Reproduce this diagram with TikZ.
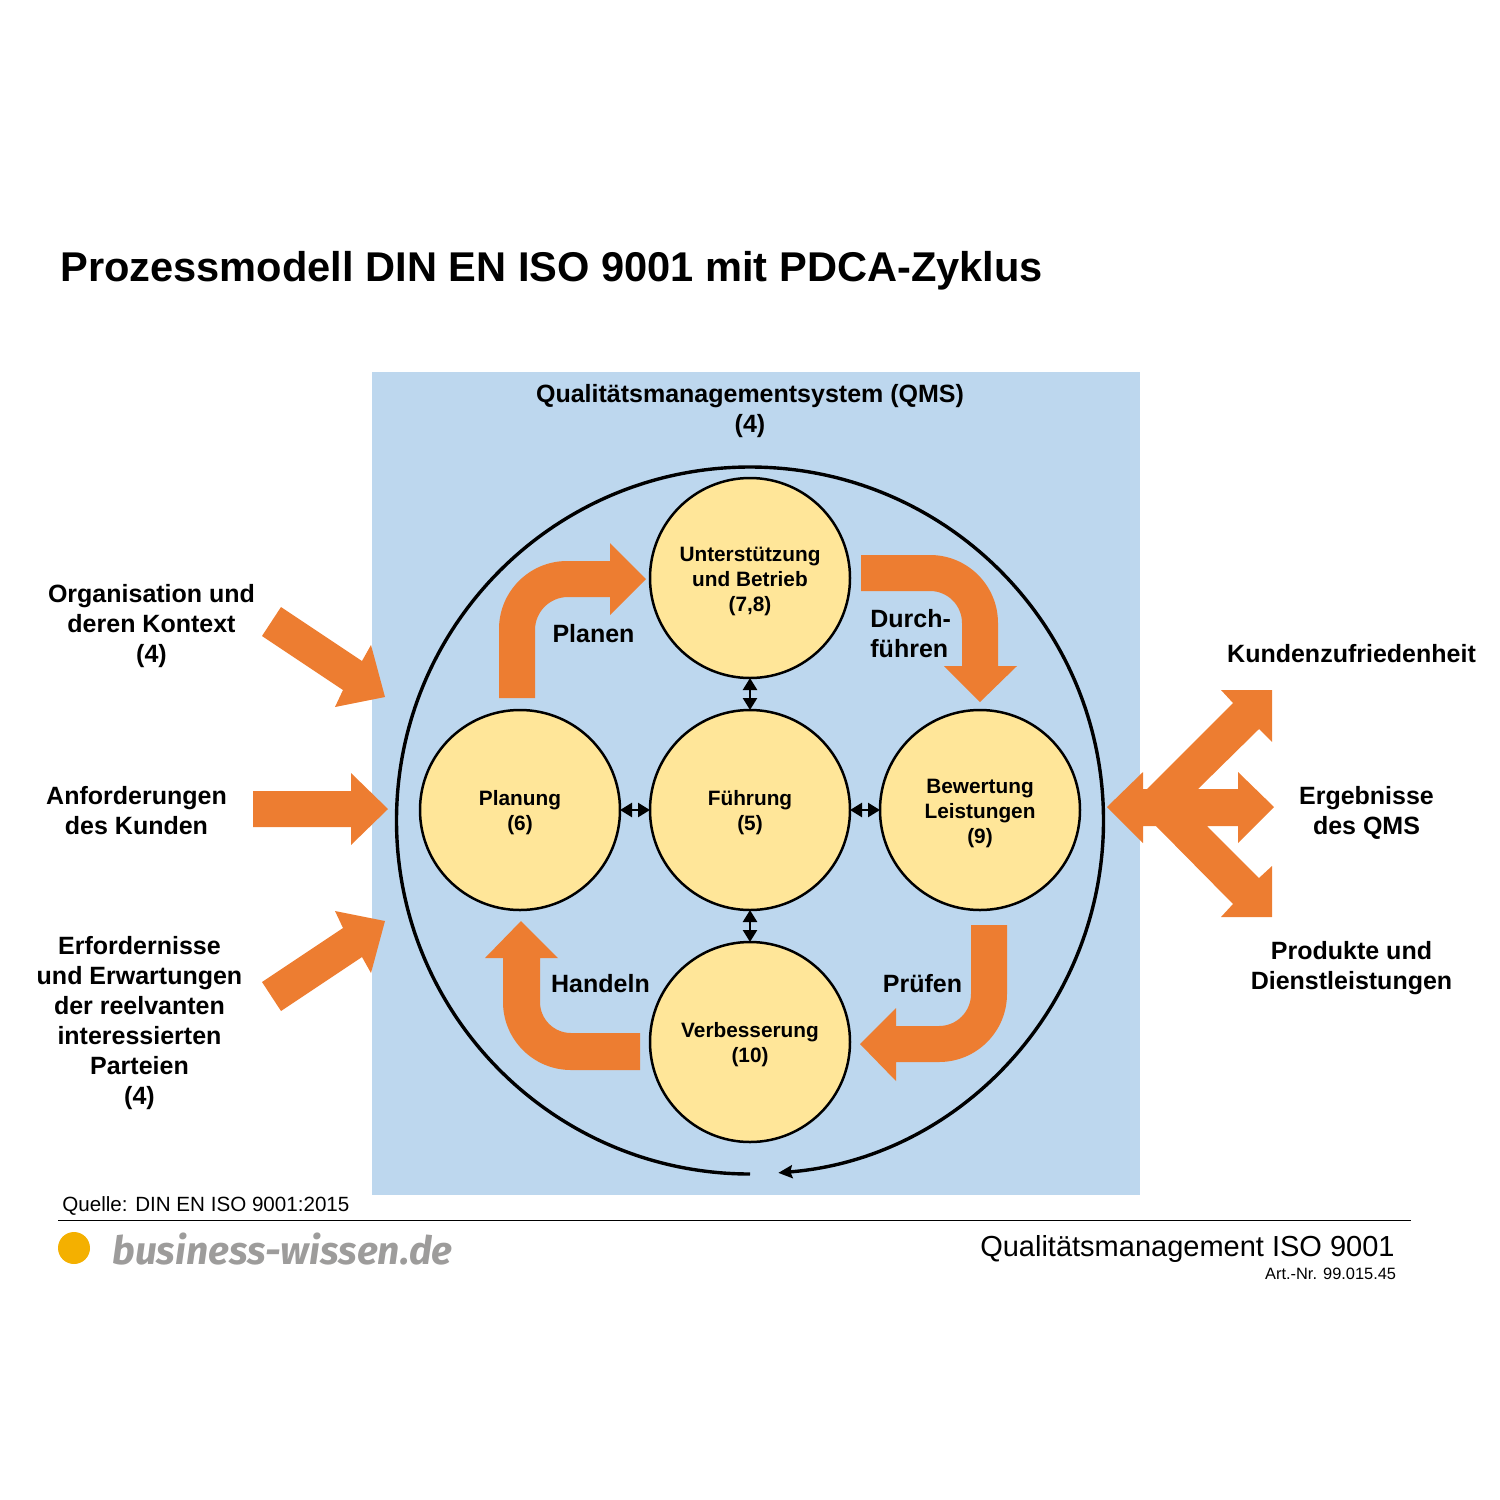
\documentclass[tikz,border=0pt]{standalone}
\usepackage{fontspec}
\setmainfont{Liberation Sans}
\newfontfamily\logofont{Fira Sans}
\usetikzlibrary{arrows.meta}
\definecolor{qmsblue}{HTML}{BDD7EE}
\definecolor{blockorange}{HTML}{ED7D31}
\definecolor{circleyellow}{HTML}{FFE699}
\definecolor{logodot}{HTML}{F4B000}
\definecolor{logogray}{HTML}{9D9C9B}
\tikzset{
  blockarrow/.style={fill=blockorange,draw=none},
  procircle/.style={circle,draw=black,line width=1.25pt,fill=circleyellow,minimum size=100pt,inner sep=0pt,outer sep=0pt,align=center,font=\fontsize{10.4}{12.5}\selectfont\bfseries},
  circletext/.style={yshift=-1.5pt,inner sep=0pt,align=center,font=\fontsize{10.4}{12.5}\selectfont\bfseries},
  biglabel/.style={align=center,inner sep=0pt,font=\fontsize{12.5}{15}\selectfont\bfseries},
  linkarrow/.style={{Triangle[length=6pt,width=7pt]}-{Triangle[length=6pt,width=7pt]},line width=1.2pt,black},
  cyclearrow/.style={-{Stealth[length=7pt,width=6.5pt,inset=1pt]},line width=1.7pt,black}
}
\begin{document}
\begin{tikzpicture}[x=.5pt,y=.5pt,yscale=-1]
\path[use as bounding box] (0,0) rectangle (1500,1500);
\fill[qmsblue] (372,372) rectangle (1140,1195);
\node[anchor=west,inner sep=0pt,font=\fontsize{20.8}{25}\selectfont\bfseries] (title) at (60,271) {Prozessmodell DIN EN ISO 9001 mit PDCA-Zyklus};
\node[biglabel] (qms) at (750,411) {Qualitätsmanagementsystem (QMS)\\(4)};
% big cycle
\draw[cyclearrow] (750,1174) arc[start angle=90,end angle=445.4,radius=353.5];
% circles
\node[procircle] (u) at (750,578) {};
\node[procircle] (p) at (520,810) {};
\node[procircle] (f) at (750,810) {};
\node[procircle] (b) at (980,810) {};
\node[procircle] (v) at (750,1042) {};
\node[circletext] (ut) at (u) {Unterstützung\\und Betrieb\\(7,8)};
\node[circletext] (pt) at (p) {Planung\\(6)};
\node[circletext] (ft) at (f) {Führung\\(5)};
\node[circletext] (bt) at (b) {Bewertung\\Leistungen\\(9)};
\node[circletext] (vt) at (v) {Verbesserung\\(10)};
\draw[linkarrow] (u.south) -- (f.north);
\draw[linkarrow] (f.south) -- (v.north);
\draw[linkarrow] (p.east) -- (f.west);
\draw[linkarrow] (f.east) -- (b.west);
% PDCA arrows
\fill[blockarrow] (499,698) -- (499,629) arc[start angle=180,end angle=270,radius=68] -- (610,561) -- (610,543) -- (646,579) -- (610,615) -- (610,597) -- (568,597) arc[start angle=270,end angle=180,radius=33] -- (535,698) -- cycle;
\fill[blockarrow] (861,555) -- (930,555) arc[start angle=270,end angle=360,radius=68] -- (998,666) -- (1017,666) -- (980,702) -- (944,666) -- (962,666) -- (962,623) arc[start angle=360,end angle=270,radius=32] -- (861,591) -- cycle;
\fill[blockarrow] (971,925) -- (1007,925) -- (1007,994) arc[start angle=0,end angle=90,radius=68] -- (896,1062) -- (896,1081) -- (860,1044) -- (896,1008) -- (896,1026) -- (939,1026) arc[start angle=90,end angle=0,radius=32] -- cycle;
\fill[blockarrow] (640,1033) -- (640,1070) -- (571,1070) arc[start angle=90,end angle=180,radius=68] -- (503,958) -- (485,958) -- (521,921) -- (558,958) -- (540,958) -- (540,1002) arc[start angle=180,end angle=90,radius=31] -- cycle;
\node[biglabel] (planen) at (593.5,634) {Planen};
\node[biglabel,align=left,anchor=west] (durch) at (870,634) {Durch-\\führen};
\node[biglabel] (pruefen) at (922.5,984) {Prüfen};
\node[biglabel] (handeln) at (600.5,984) {Handeln};
% left inputs
\fill[blockarrow] (281,607) -- (362,661) -- (371,645) -- (385,697) -- (335,707) -- (343,690) -- (262,636) -- cycle;
\fill[blockarrow] (253,791) -- (351,791) -- (351,773) -- (388,809) -- (351,845) -- (351,827) -- (253,827) -- cycle;
\fill[blockarrow] (281,1011) -- (362,957) -- (371,973) -- (385,921) -- (335,911) -- (343,928) -- (262,982) -- cycle;
\node[biglabel] (org) at (151.5,626) {Organisation und\\deren Kontext\\(4)};
\node[biglabel] (anf) at (136.5,811) {Anforderungen\\des Kunden};
\node[biglabel] (erf) at (139.5,1023) {Erfordernisse\\und Erwartungen\\der reelvanten\\interessierten\\Parteien\\(4)};
% right outputs
\fill[blockarrow] (1107,807) -- (1143,772) -- (1143,789) -- (1147,789) -- (1233,703) -- (1221,690) -- (1272,690) -- (1272,742) -- (1259,729) -- (1198,789) -- (1238,789) -- (1238,772) -- (1274,807) -- (1238,843) -- (1238,826) -- (1207,826) -- (1259,878) -- (1272,866) -- (1272,917) -- (1221,917) -- (1233,904) -- (1156,826) -- (1143,826) -- (1143,843) -- cycle;
\node[biglabel] (kund) at (1351.5,654) {Kundenzufriedenheit};
\node[biglabel] (erg) at (1366.5,812.5) {Ergebnisse\\des QMS};
\node[biglabel] (prod) at (1351.5,968) {Produkte und\\Dienstleistungen};
% footer
\node[anchor=west,inner sep=0pt,font=\fontsize{10.3}{12}\selectfont] (quelle) at (62,1206) {Quelle: DIN EN ISO 9001:2015};
\coordinate (ruleL) at (58,1220);
\coordinate (ruleR) at (1411,1220);
\draw[line width=.5pt,black] (ruleL) -- (ruleR);
\fill[logodot] (74,1248) circle[radius=16];
\node[anchor=west,inner sep=0pt,text=logogray,font=\fontsize{19.5}{24}\selectfont\logofont\bfseries\itshape] (logo) at (112,1249) {business-wissen.de};
\node[anchor=east,inner sep=0pt,font=\fontsize{14.5}{17}\selectfont] (qm) at (1395,1249) {Qualitätsmanagement ISO 9001};
\node[anchor=east,inner sep=0pt,font=\fontsize{8.2}{10}\selectfont] (art) at (1396.5,1274) {Art.-Nr. 99.015.45};
\end{tikzpicture}
\end{document}
